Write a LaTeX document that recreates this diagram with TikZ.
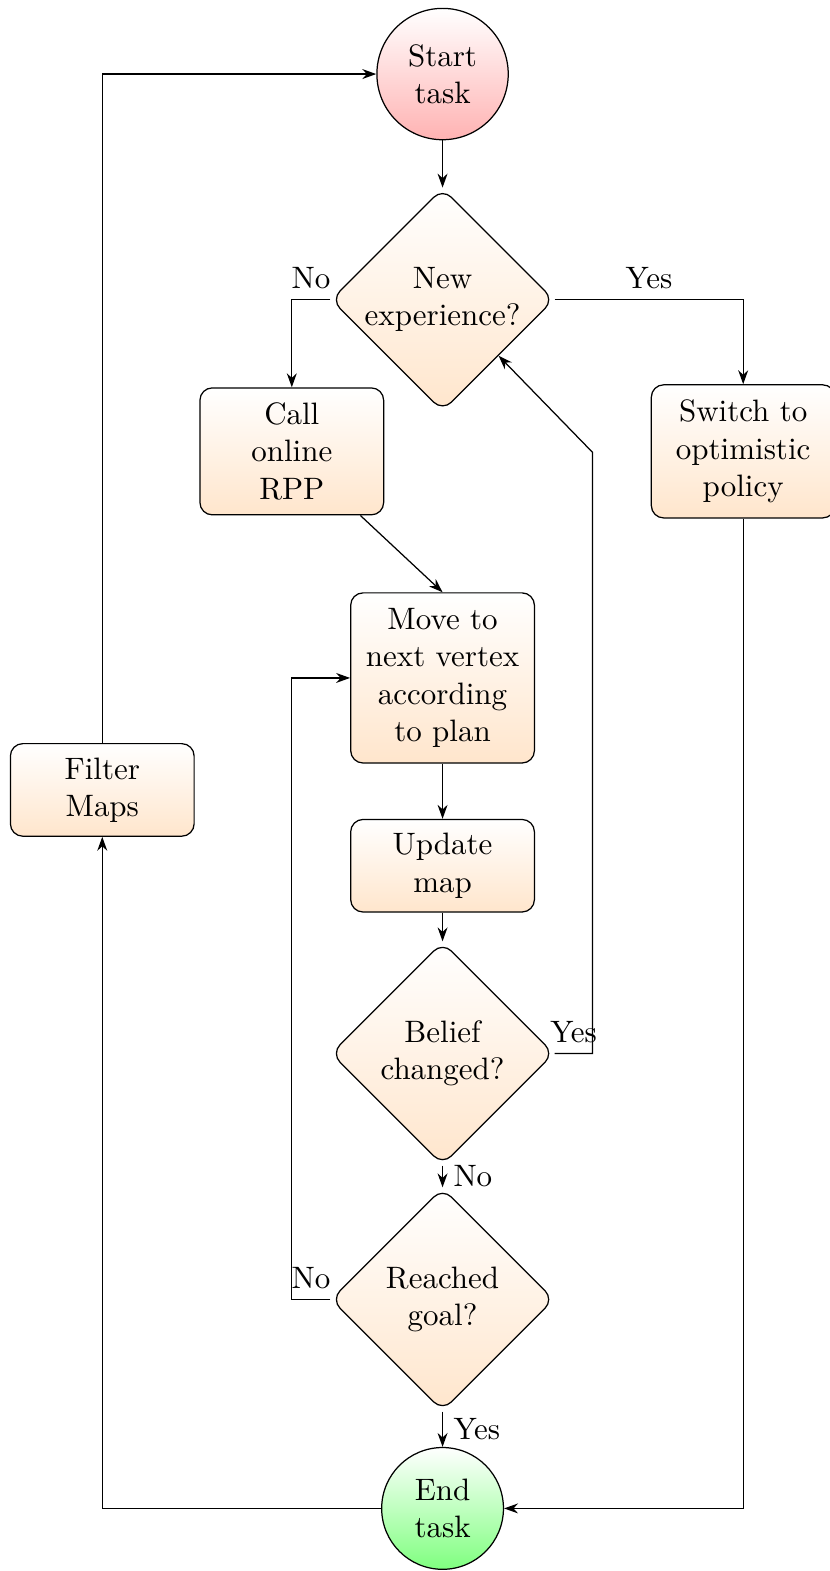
\documentclass[tikz,border=0pt]{standalone}
\usepackage{amsmath}
\usetikzlibrary{calc, arrows.meta, shapes.geometric}

\begin{document}
\begin{tikzpicture}[scale=1.0, >={Stealth[length=4.5pt, width=3.2pt]},
  process/.style={draw, rectangle, rounded corners=4pt, align=center,
    text width=1.85cm, inner sep=3.33pt, top color=white, bottom color=orange!20},
  decision/.style={draw, diamond, aspect=1, rounded corners=4pt, align=center,
    inner sep=0pt, minimum size=2.53cm, top color=white, bottom color=orange!20},
  terminal/.style={draw, circle, align=center, inner sep=4.6pt}]
  \useasboundingbox (-5.02,0.84) rectangle (4.39,-16.98);
  % nodes
  \node[terminal, top color=white, bottom color=red!30] (start) at (0,0) {Start\\task};
  \node[decision] (newexp) at (0,-2.56) {New\\experience?};
  \node[process, minimum height=1.44cm] (call) at (-1.71,-4.28) {Call\\online\\RPP};
  \node[process, minimum height=1.51cm] (switch) at (3.41,-4.28) {Switch to\\optimistic\\policy};
  \node[process, minimum height=1.93cm] (move) at (0,-6.85) {Move to\\next vertex\\according\\to plan};
  \node[process, minimum height=1.05cm] (filter) at (-3.86,-8.12) {Filter\\Maps};
  \node[process, minimum height=1.05cm] (update) at (0,-8.98) {Update\\map};
  \node[decision] (belief) at (0,-11.11) {Belief\\changed?};
  \node[decision] (reached) at (0,-13.90) {Reached\\goal?};
  \node[terminal, top color=white, bottom color=green!50] (end) at (0,-16.27) {End\\task};
  \coordinate (loopup) at (1.70,-4.29);
  % connectors
  \draw[->] (start) -- (newexp);
  \draw[->] (newexp.west) -| node[pos=0.25, above] {No} (call.north);
  \draw[->] (newexp.east) -| node[pos=0.25, above] {Yes} (switch.north);
  \draw[->] (call) -- (move.north);
  \draw[->] (move) -- (update);
  \draw[->] (update) -- (belief);
  \draw[->] (belief.east) -- node[above] {Yes} (belief.east -| loopup) -- (loopup) -- (newexp.south east);
  \draw[->] (belief) -- node[right] {No} (reached);
  \draw[->] (reached.west) -- node[above] {No} (reached.west -| call.south) |- (move.west);
  \draw[->] (reached) -- node[right] {Yes} (end);
  \draw[->] (switch.south) |- (end.east);
  \draw[->] (end.west) -| (filter.south);
  \draw[->] (filter.north) |- (start.west);
\end{tikzpicture}
\end{document}
